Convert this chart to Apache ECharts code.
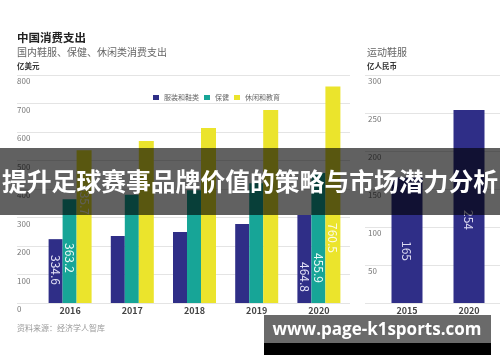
<!DOCTYPE html>
<html><head><meta charset="utf-8">
<script src="https://cdn.jsdelivr.net/npm/echarts@6/dist/echarts.min.js"></script>
<style>html,body{margin:0;padding:0;background:#fff}#c{width:500px;height:362px}</style>
</head><body><div id="c"></div><script>
// ---- data ----
const years = ['2016', '2017', '2018', '2019', '2020'];
const apparel = [224, 235, 249, 277, 309];
const health = [364, 380, 396, 420, 456];
const leisure = [536, 568, 614, 677, 760];
const apparelLabels = ['334.6', '', '', '', '464.8'];
const healthLabels = ['363.2', '', '', '', '455.9'];
const leisureLabels = ['535.7', '', '', '', '760.5'];
const seriesNames = ['服装和鞋类', '保健', '休闲和教育'];
const leftTicks = ['0', '100', '200', '300', '400', '500', '600', '700', '800'];
const sportYears = ['2015', '2020'];
const sportValues = [165, 254];
const sportLabels = ['165', '254'];
const rightTicks = ['', '50', '100', '150', '200', '250', '300'];

// ---- styling ----
const FONT = '"Noto Sans CJK SC", "Noto Sans", sans-serif';
const NAVY = '#2f2e87', TEAL = '#17a597', YELLOW = '#ebe42c';

function items(vals, texts, dists, color) {
  return vals.map((v, i) => {
    if (!texts[i]) return v;
    return {
      value: v,
      label: {
        show: true, formatter: texts[i], position: 'insideBottom', distance: dists[i],
        rotate: -90, align: 'right', verticalAlign: 'middle',
        color: color, fontSize: 12, fontFamily: FONT
      }
    };
  });
}

const chart = echarts.init(document.getElementById('c'));
const gt = { top: 75, bottom: 59 };
chart.setOption({
  animation: false,
  backgroundColor: '#fff',
  textStyle: { fontFamily: FONT },
  legend: {
    left: 148, top: 89, itemWidth: 6, itemHeight: 5, itemGap: 5, icon: 'rect',
    textStyle: { fontSize: 7, color: '#666', fontFamily: FONT },
    data: seriesNames
  },
  grid: [
    Object.assign({ left: 39, right: 150 }, gt),
    Object.assign({ left: 17, right: 150 }, gt),
    Object.assign({ left: 376, right: 0 }, gt),
    Object.assign({ left: 365, right: 0 }, gt)
  ],
  xAxis: [
    { type: 'category', gridIndex: 0, data: years, axisLine: { show: false }, axisTick: { show: false },
      axisLabel: { margin: 3, fontSize: 9, fontWeight: 'bold', color: '#444', fontFamily: FONT } },
    { type: 'category', gridIndex: 1, data: years, show: false },
    { type: 'category', gridIndex: 2, data: sportYears, axisLine: { show: false }, axisTick: { show: false },
      axisLabel: { margin: 3, fontSize: 9, fontWeight: 'bold', color: '#444', fontFamily: FONT } },
    { type: 'category', gridIndex: 3, data: sportYears, show: false }
  ],
  yAxis: [
    { type: 'value', gridIndex: 0, min: 0, max: 800, interval: 100, show: false, splitLine: { show: false } },
    { type: 'value', gridIndex: 1, min: 0, max: 800, interval: 100,
      axisLine: { show: false }, axisTick: { show: false },
      splitLine: { lineStyle: { color: '#e4e4e4', width: 1 } },
      axisLabel: { inside: true, margin: 0, verticalAlign: 'top', padding: [2, 0, 0, 0], fontSize: 8, color: '#777',
        fontFamily: FONT, formatter: (v) => leftTicks[Math.round(v / 100)] } },
    { type: 'value', gridIndex: 2, min: 0, max: 300, interval: 50, show: false, splitLine: { show: false } },
    { type: 'value', gridIndex: 3, min: 0, max: 300, interval: 50,
      axisLine: { show: false }, axisTick: { show: false },
      splitLine: { lineStyle: { color: '#e4e4e4', width: 1 } },
      axisLabel: { inside: true, margin: 3, verticalAlign: 'top', padding: [2, 0, 0, 0], fontSize: 8, color: '#777',
        fontFamily: FONT, formatter: (v) => rightTicks[Math.round(v / 50)] } }
  ],
  series: [
    { name: seriesNames[0], type: 'bar', xAxisIndex: 0, yAxisIndex: 0, barWidth: 14, barGap: '0%',
      itemStyle: { color: NAVY }, data: items(apparel, apparelLabels, [18, 0, 0, 0, 11], '#e4e2f6') },
    { name: seriesNames[1], type: 'bar', xAxisIndex: 0, yAxisIndex: 0, barWidth: 14, barGap: '0%',
      itemStyle: { color: TEAL }, data: items(health, healthLabels, [30, 0, 0, 0, 20], '#eefaf8') },
    { name: seriesNames[2], type: 'bar', xAxisIndex: 0, yAxisIndex: 0, barWidth: 15, barGap: '0%',
      itemStyle: { color: YELLOW }, data: items(leisure, leisureLabels, [88, 0, 0, 0, 50], '#fbfbe6') },
    { name: '运动鞋服', type: 'bar', xAxisIndex: 2, yAxisIndex: 2, barWidth: 31,
      itemStyle: { color: NAVY }, data: items(sportValues, sportLabels, [42, 73], '#dcdaf2') }
  ],
  graphic: [
    { type: 'text', left: 17, top: 32, style: { text: '中国消费支出', font: 'bold 11.5px ' + FONT, fill: '#222' } },
    { type: 'text', left: 17, top: 47, style: { text: '国内鞋服、保健、休闲类消费支出', font: '10px ' + FONT, fill: '#666' } },
    { type: 'text', left: 17, top: 62, style: { text: '亿美元', font: 'bold 7.5px ' + FONT, fill: '#333' } },
    { type: 'text', left: 367, top: 47, style: { text: '运动鞋服', font: '10px ' + FONT, fill: '#666' } },
    { type: 'text', left: 367, top: 62, style: { text: '亿人民币', font: 'bold 7.5px ' + FONT, fill: '#333' } },
    { type: 'text', left: 17, top: 324, style: { text: '资料来源：经济学人智库', font: '8px ' + FONT, fill: '#999' } },
    { type: 'text', left: 367, top: 324, z: 50, style: { text: '资料来源：高盛公司', font: '8px ' + FONT, fill: '#999' } },
    // overlay banner
    { type: 'rect', z: 100, shape: { x: 0, y: 148, width: 500, height: 67 }, style: { fill: 'rgba(0,0,0,0.62)' } },
    { type: 'text', z: 101, x: 250, y: 182, style: { text: '提升足球赛事品牌价值的策略与市场潜力分析',
      font: 'bold 24.8px ' + FONT, fill: '#fff', align: 'center', verticalAlign: 'middle' } },
    // watermark box
    { type: 'rect', z: 100, shape: { x: 264, y: 315, width: 227, height: 28 }, style: { fill: 'rgba(85,85,85,0.88)' } },
    { type: 'rect', z: 100, shape: { x: 264, y: 343, width: 227, height: 12 }, style: { fill: '#000' } },
    { type: 'text', z: 101, x: 377, y: 330, style: { text: 'www.page-k1sports.com',
      font: 'bold 17px "Open Sans", sans-serif', fill: '#fff', align: 'center', verticalAlign: 'middle' } }
  ]
});
</script></body></html>
